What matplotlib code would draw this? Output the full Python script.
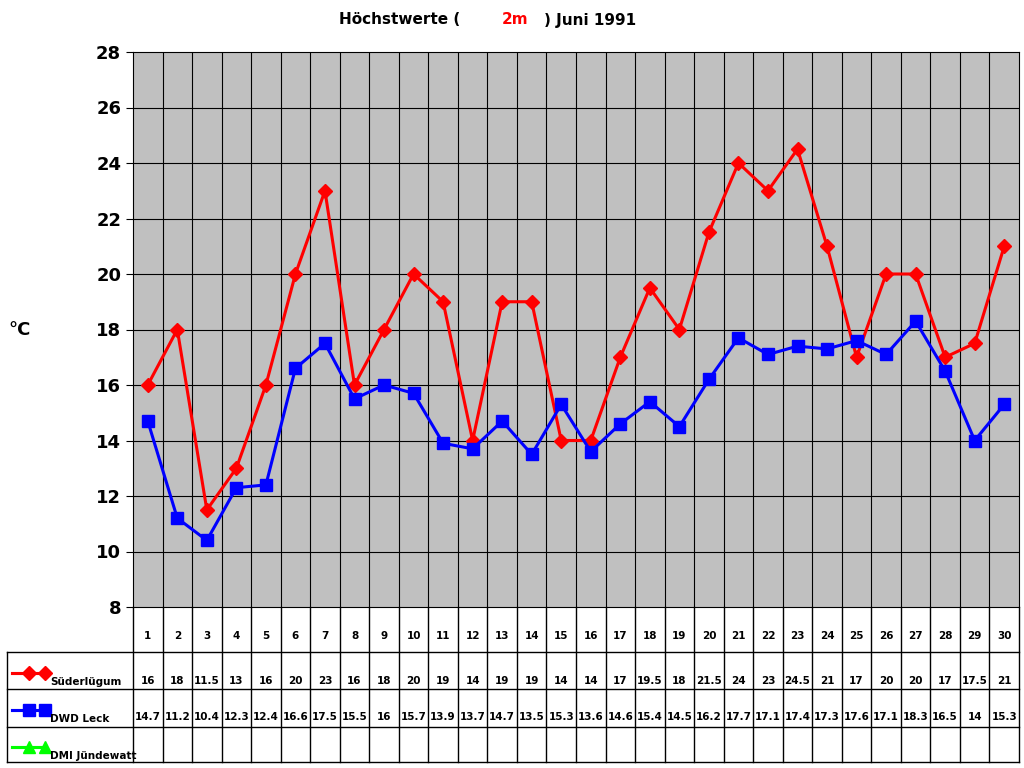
import matplotlib
matplotlib.use("Agg")
import matplotlib.pyplot as plt

days = list(range(1, 31))
suederluegum = [16, 18, 11.5, 13, 16, 20, 23, 16, 18, 20, 19, 14, 19, 19, 14, 14, 17, 19.5, 18, 21.5,
                24, 23, 24.5, 21, 17, 20, 20, 17, 17.5, 21]
dwd_leck = [14.7, 11.2, 10.4, 12.3, 12.4, 16.6, 17.5, 15.5, 16, 15.7, 13.9, 13.7, 14.7, 13.5, 15.3,
            13.6, 14.6, 15.4, 14.5, 16.2, 17.7, 17.1, 17.4, 17.3, 17.6, 17.1, 18.3, 16.5, 14, 15.3]
series_names = ["Süderlügum", "DWD Leck", "DMI Jündewatt"]

W, H = 1024, 768
X0, X1, Y0, Y1 = 133, 1019, 52, 607  # plot area in pixels (top-down y)

fig = plt.figure(figsize=(W / 100, H / 100), dpi=100)
fig.patch.set_facecolor("white")
ax = fig.add_axes([X0 / W, 1 - Y1 / H, (X1 - X0) / W, (Y1 - Y0) / H])
ax.set_facecolor("#c0c0c0")
ax.set_xlim(0.5, 30.5)
ax.set_ylim(8, 28)
ax.set_yticks(range(8, 29, 2))
ax.set_xticks([])
for x in range(1, 30):
    ax.axvline(x + 0.5, color="black", lw=0.8, zorder=1)
for y in range(10, 28, 2):
    ax.axhline(y, color="black", lw=0.8, zorder=1)
ax.tick_params(axis="y", labelsize=13, length=5)
for lab in ax.get_yticklabels():
    lab.set_fontweight("bold")
for s in ax.spines.values():
    s.set_color("black")
ax.plot(days, suederluegum, color="red", lw=2.2, marker="D", ms=7, zorder=3)
ax.plot(days, dwd_leck, color="blue", lw=2.2, marker="s", ms=8, zorder=3)

fig.text(20 / W, 1 - 330 / H, "°C", fontsize=13, fontweight="bold", ha="center", va="center")
# title with underlined red "2m"
fig.text(400 / W, 1 - 20 / H, "Höchstwerte (", fontsize=11, fontweight="bold", ha="center", va="center")
fig.text(515 / W, 1 - 20 / H, "2m", fontsize=11, fontweight="bold", color="red", ha="center", va="center")
fig.plot = None
fig.text(590 / W, 1 - 20 / H, ") Juni 1991", fontsize=11, fontweight="bold", ha="center", va="center")

# table overlay in pixel coords
tab = fig.add_axes([0, 0, 1, 1])
tab.set_xlim(0, W)
tab.set_ylim(H, 0)
tab.axis("off")
tab.patch.set_alpha(0)
colw = (X1 - X0) / 30
lk = dict(color="black", lw=1)
tab.plot([X0, X0], [Y1, 762], **lk)
for i in range(1, 31):
    tab.plot([X0 + i * colw] * 2, [Y1, 762], **lk)
tab.plot([7, X1], [652, 652], **lk)
tab.plot([7, X1], [689, 689], **lk)
tab.plot([7, X1], [727, 727], **lk)
tab.plot([7, X1], [762, 762], **lk)
tab.plot([7, 7], [652, 762], **lk)

def fmt(v):
    return str(int(v)) if v == int(v) else str(v)

for i, d in enumerate(days):
    cx = X0 + (i + 0.5) * colw
    tab.text(cx, 636, str(d), fontsize=7.5, fontweight="bold", ha="center", va="center")
    tab.text(cx, 681, fmt(suederluegum[i]), fontsize=7.5, fontweight="bold", ha="center", va="center")
    tab.text(cx, 717, fmt(dwd_leck[i]), fontsize=7.5, fontweight="bold", ha="center", va="center")

leg_styles = [("red", "D", 7), ("blue", "s", 8), ("#00ff00", "^", 8)]
for k, (name, (c, m, ms)) in enumerate(zip(series_names, leg_styles)):
    ly = 673 + k * 37
    tab.plot([12, 45], [ly, ly], color=c, lw=2.2, marker=m, ms=ms, markevery=[1], zorder=3)
    tab.plot([12, 28.5, 45], [ly, ly, ly], color=c, lw=2.2, marker=m, ms=ms, markevery=[1])
    tab.text(50, ly + 9, name, fontsize=7.5, fontweight="bold", ha="left", va="center")

fig.savefig("out.png", dpi=100)
